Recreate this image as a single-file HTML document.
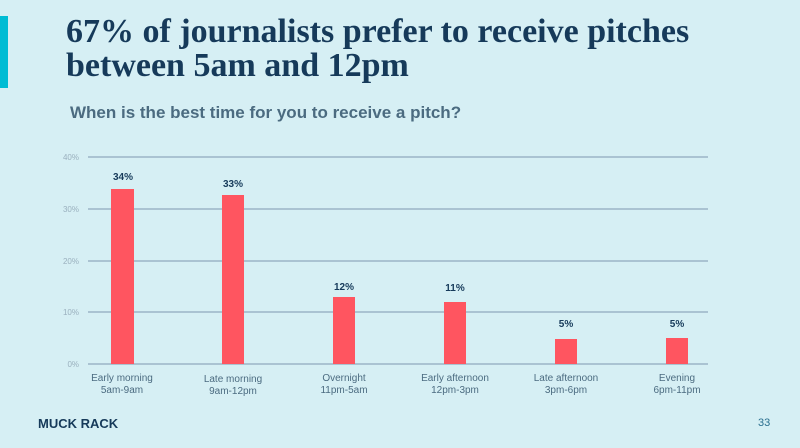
<!DOCTYPE html>
<html><head><style>
body{margin:0;width:800px;height:448px;background:#d6eff4;position:relative;overflow:hidden;font-family:"Liberation Sans",sans-serif}
.acc{position:absolute;left:0;top:16px;width:8px;height:72px;background:#00bcd4}
h1{position:absolute;left:66px;top:15px;margin:0;font-family:"Liberation Serif",serif;font-weight:bold;font-size:34px;line-height:34px;color:#163a5a}
.sub{position:absolute;left:70px;top:103px;font-weight:bold;font-size:17px;color:#4b6b80}
.foot{position:absolute;left:38px;top:416px;font-weight:bold;font-size:13px;color:#163a5a}
.pg{position:absolute;left:758px;top:417px;font-size:11px;color:#2a6f8f}
</style></head><body>
<div class="acc"></div>
<h1>67% of journalists prefer to receive pitches<br>between 5am and 12pm</h1>
<div class="sub">When is the best time for you to receive a pitch?</div>
<svg width="800" height="448" style="position:absolute;left:0;top:0" font-family="Liberation Sans, sans-serif">
<g stroke="#8fa9bd" stroke-width="1.2">
<line x1="88" y1="157" x2="708" y2="157"/><line x1="88" y1="209" x2="708" y2="209"/>
<line x1="88" y1="261" x2="708" y2="261"/><line x1="88" y1="312" x2="708" y2="312"/>
<line x1="88" y1="364" x2="708" y2="364"/></g>
<g fill="#9ab0be" font-size="8" text-anchor="end">
<text x="79" y="160">40%</text><text x="79" y="212">30%</text><text x="79" y="264">20%</text><text x="79" y="315">10%</text><text x="79" y="367">0%</text></g>
<g fill="#ff5560">
<rect x="111" y="189" width="23" height="175"/><rect x="222" y="195" width="22" height="169"/>
<rect x="333" y="297" width="22" height="67"/><rect x="444" y="302" width="22" height="62"/>
<rect x="555" y="339" width="22" height="25"/><rect x="666" y="338" width="22" height="26"/></g>
<g fill="#163a5a" font-size="10" font-weight="bold" text-anchor="middle">
<text x="123" y="180">34%</text><text x="233" y="187">33%</text><text x="344" y="290">12%</text>
<text x="455" y="291">11%</text><text x="566" y="327">5%</text><text x="677" y="327">5%</text></g>
<g fill="#4b6b80" font-size="10" text-anchor="middle">
<text x="122" y="381">Early morning</text><text x="122" y="393">5am-9am</text>
<text x="233" y="382">Late morning</text><text x="233" y="394">9am-12pm</text>
<text x="344" y="381">Overnight</text><text x="344" y="393">11pm-5am</text>
<text x="455" y="381">Early afternoon</text><text x="455" y="393">12pm-3pm</text>
<text x="566" y="381">Late afternoon</text><text x="566" y="393">3pm-6pm</text>
<text x="677" y="381">Evening</text><text x="677" y="393">6pm-11pm</text></g>
</svg>
<div class="foot">MUCK RACK</div>
<div class="pg">33</div>
</body></html>
